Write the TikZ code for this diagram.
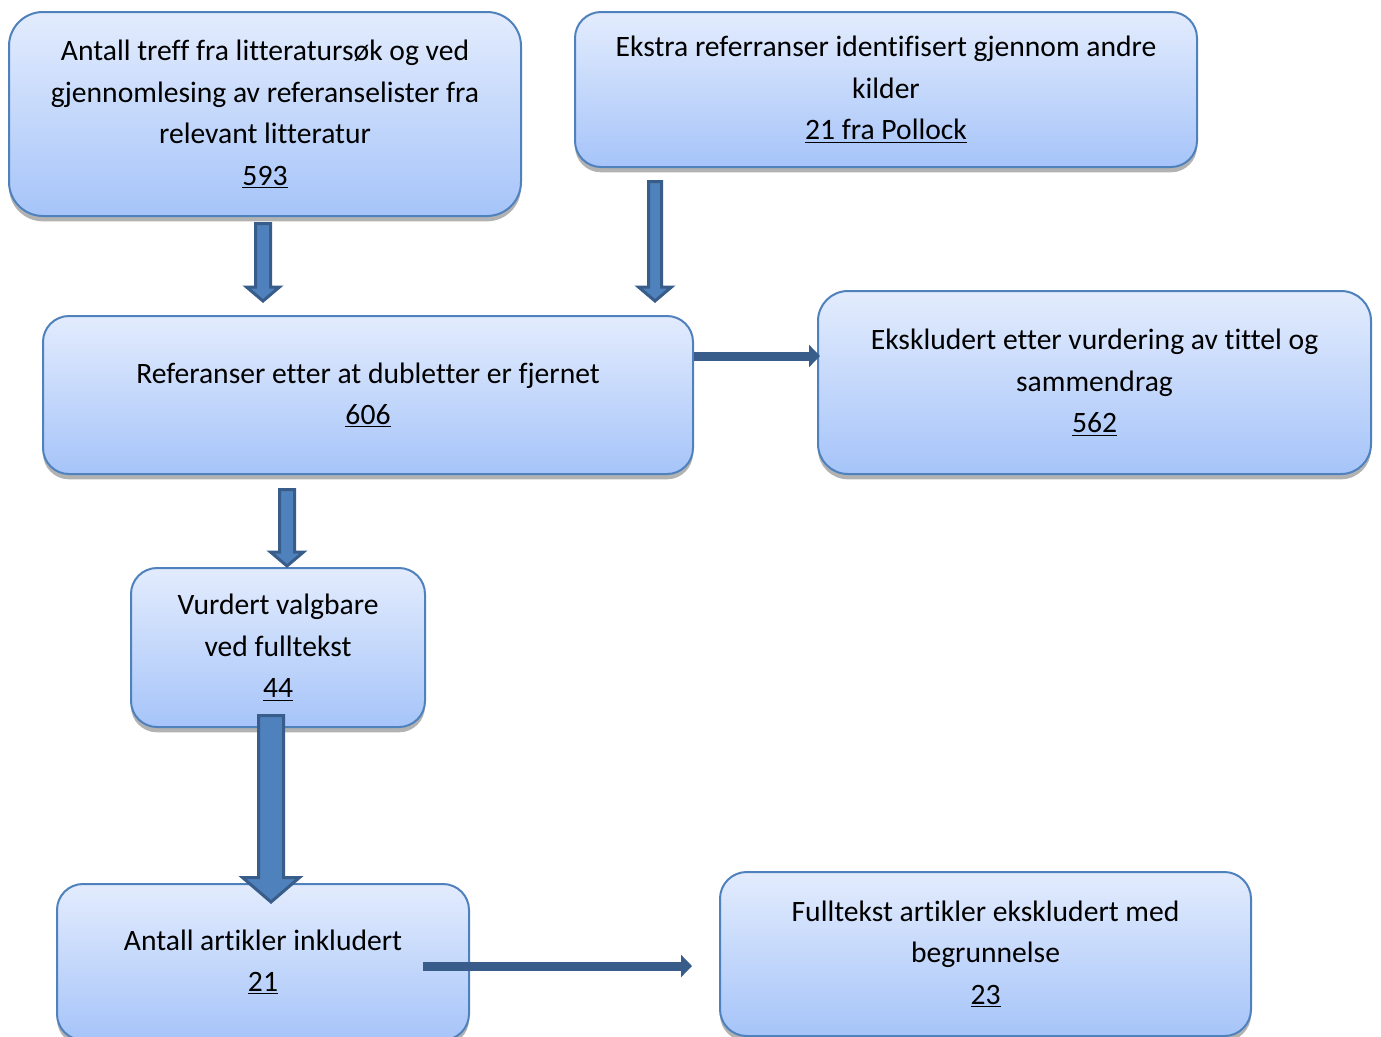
\documentclass[tikz,border=0pt]{standalone}
\usepackage{fontspec}
\setmainfont{Carlito}[RawFeature={-liga,-clig,-dlig}]
\usetikzlibrary{shadows,arrows.meta}
\definecolor{boxtop}{HTML}{E3ECFD}
\definecolor{boxbot}{HTML}{A6C4F9}
\definecolor{boxline}{HTML}{4F81BD}
\definecolor{arrfill}{HTML}{4F81BD}
\definecolor{arrline}{HTML}{385D8A}
\newcommand\blockdown[6]{\draw[blockarr] ({#1-#4},#2) -- ({#1+#4},#2) -- ({#1+#4},{#3-#6}) -- ({#1+#5},{#3-#6}) -- (#1,#3) -- ({#1-#5},{#3-#6}) -- ({#1-#4},{#3-#6}) -- cycle;}
\begin{document}
\begin{tikzpicture}[x=0.75pt,y=-0.75pt,
 flowbox/.style={draw=boxline, line width=1.5pt, top color=boxtop, bottom color=boxbot,
   align=center, inner sep=0pt, font=\fontsize{22.2}{31.1}\selectfont,
   drop shadow={shadow xshift=0pt, shadow yshift=-4pt, opacity=0.3, fill=black}},
 blockarr/.style={fill=arrfill, draw=arrline, line width=2.25pt, line join=miter},
 flatarr/.style={draw=arrline, line width=6.75pt, -{Triangle[length=8.25pt,width=16.5pt]}}]
\clip (0,0) rectangle (1381,1036);
\fill[white] (0,0) rectangle (1381,1036);

\node[flowbox, minimum width=384pt, minimum height=153pt, rounded corners=25.5pt] (A) at (265,114)
 {Antall treff fra litteratursøk og ved\\gjennomlesing av referanselister fra\\relevant litteratur\\\underline{593}};
\node[flowbox, minimum width=466.5pt, minimum height=116.25pt, rounded corners=19.5pt] (B) at (886,89.5)
 {Ekstra referranser identifisert gjennom andre\\kilder\\\underline{21 fra Pollock}};
\node[flowbox, minimum width=487.5pt, minimum height=118.5pt, rounded corners=19.5pt] (C) at (368,395)
 {Referanser etter at dubletter er fjernet\\\underline{606}};
\node[flowbox, minimum width=414.75pt, minimum height=137.25pt, rounded corners=22.5pt] (D) at (1094.5,382.5)
 {Ekskludert etter vurdering av tittel og\\sammendrag\\\underline{562}};
\node[flowbox, minimum width=220.5pt, minimum height=119.25pt, rounded corners=19.5pt] (E) at (278,647.5)
 {Vurdert valgbare\\ved fulltekst\\\underline{44}};
\node[flowbox, minimum width=309pt, minimum height=117pt, rounded corners=19.5pt] (F) at (263,962)
 {Antall artikler inkludert\\\underline{21}};
\node[flowbox, minimum width=398.25pt, minimum height=123pt, rounded corners=20pt] (G) at (985.5,954)
 {Fulltekst artikler ekskludert med\\begrunnelse\\\underline{23}};

% block arrows
\blockdown{263}{223.5}{301}{7.5}{16.5}{14}
\blockdown{655}{181.5}{301}{6.5}{16.5}{14}
\blockdown{287}{489.5}{566}{7.5}{16.5}{14}
\blockdown{271}{715.5}{902}{12.5}{28.5}{24.5}

% flat arrows
\path (0,356) coordinate (yCD) (0,966) coordinate (yFG);
\draw[flatarr] (C.east |- yCD) -- ([xshift=2.25pt]D.west |- yCD);
\draw[flatarr] ([xshift=-35.25pt]F.east |- yFG) -- ([xshift=-20.25pt]G.west |- yFG);
\end{tikzpicture}
\end{document}
